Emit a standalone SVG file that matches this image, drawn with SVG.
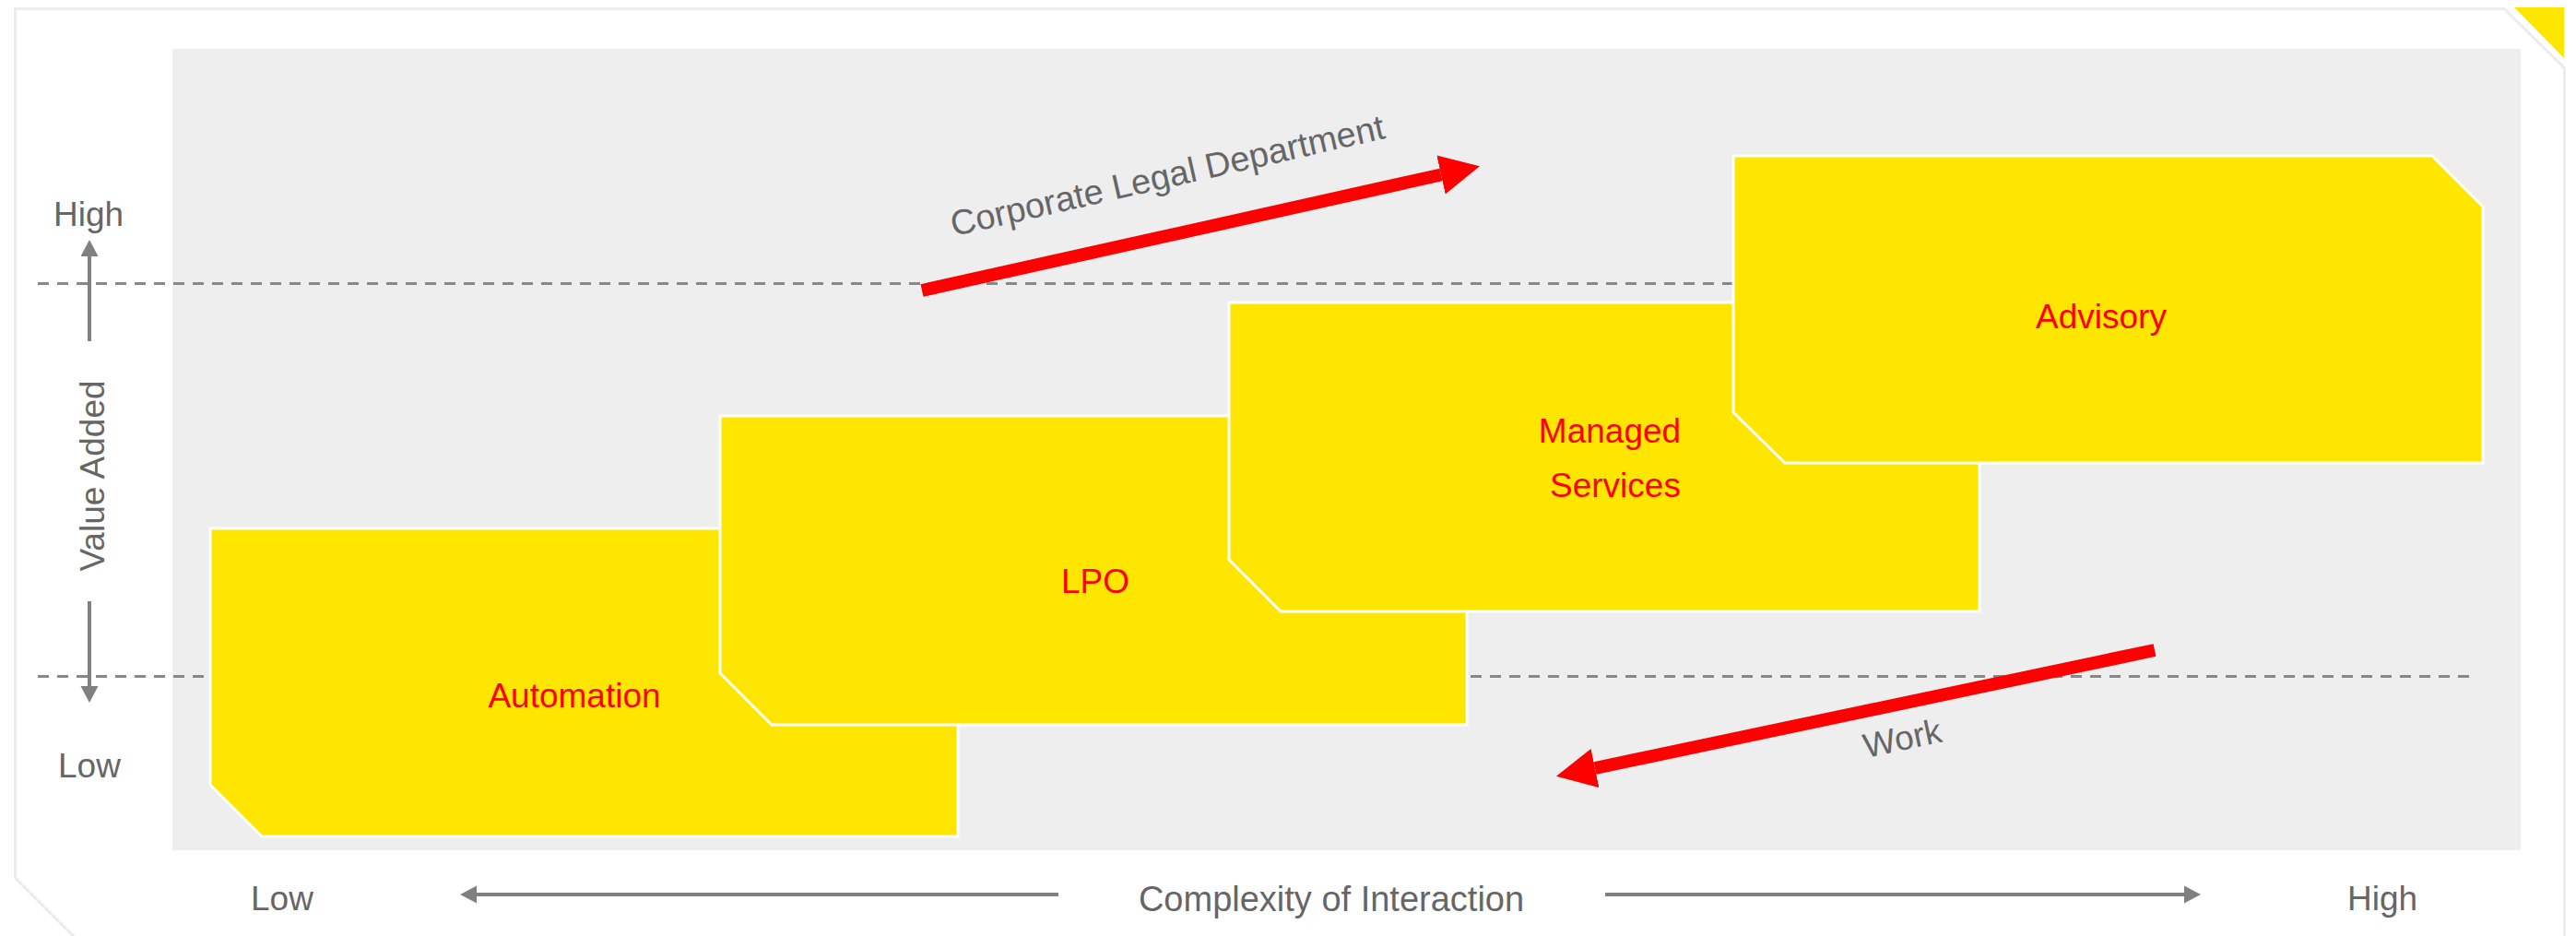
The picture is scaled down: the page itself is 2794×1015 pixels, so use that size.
<svg xmlns="http://www.w3.org/2000/svg" width="2794" height="1015" viewBox="0 0 2794 1015">
  <style>
    .lbl { font-family: "Liberation Sans", Arial, sans-serif; font-size: 37px; fill: #666666; }
    .lbl-lg { font-size: 38px; }
    .node-text { font-family: "Liberation Sans", Arial, sans-serif; font-size: 37px; fill: #FF0000; text-anchor: middle; }
    .box { fill: #FFE600; stroke: #FFFFFF; stroke-width: 3; }
    .dash { stroke: #888888; stroke-width: 3; stroke-dasharray: 12 9; fill: none; }
    .gray-arrow { stroke: #808080; stroke-width: 4; fill: none; }
    .red-arrow { stroke: #FF0000; stroke-width: 14; fill: none; }
  </style>
  <defs>
    <marker id="redHead" markerUnits="userSpaceOnUse" markerWidth="44" markerHeight="44" refX="0" refY="21.5" orient="auto">
      <path d="M0,0 L43,21.5 L0,43 Z" fill="#FF0000"/>
    </marker>
    <marker id="grayHead" markerUnits="userSpaceOnUse" markerWidth="20" markerHeight="20" refX="0" refY="9.5" orient="auto">
      <path d="M0,0 L18,9.5 L0,19 Z" fill="#808080"/>
    </marker>
  </defs>

  <rect x="0" y="0" width="2794" height="1015" fill="#FFFFFF"/>
  <!-- outer frame -->
  <path d="M16.5,952 L16.5,9.5 L2716,9.5 L2781.5,74 L2781.5,1015" fill="none" stroke="#ECECEC" stroke-width="3"/>
  <path d="M16.5,952 L80,1015.5" fill="none" stroke="#ECECEC" stroke-width="3"/>
  <polygon points="2727,8 2781,8 2781,63" fill="#FFE600"/>

  <!-- plot background -->
  <rect x="187" y="53" width="2547" height="869" fill="#EEEEEE"/>

  <!-- dashed reference lines -->
  <line class="dash" x1="41" y1="307.5" x2="2687" y2="307.5"/>
  <line class="dash" x1="41" y1="733.5" x2="2687" y2="733.5"/>

  <!-- nodes -->
  <g id="automation">
    <polygon class="box" points="228,573 983,573 1039,629 1039,907 284,907 228,851"/>
    <text class="node-text" x="623" y="767">Automation</text>
  </g>
  <g id="lpo">
    <polygon class="box" points="781,451 1535,451 1591,507 1591,786 837,786 781,730"/>
    <text class="node-text" x="1188" y="643">LPO</text>
  </g>
  <g id="managed-services">
    <polygon class="box" points="1333,328 2091,328 2147,384 2147,663 1389,663 1333,607"/>
    <text class="node-text" x="1746" y="480">Managed</text>
    <text class="node-text" x="1752" y="539">Services</text>
  </g>
  <g id="advisory">
    <polygon class="box" points="1880,169 2638,169 2693,224 2693,502 1936,502 1880,447"/>
    <text class="node-text" x="2279" y="356">Advisory</text>
  </g>

  <!-- connectors -->
  <g id="connectors">
    <line class="red-arrow" x1="1000" y1="315" x2="1563" y2="189.5" marker-end="url(#redHead)"/>
    <line class="red-arrow" x1="2337" y1="705" x2="1730" y2="833" marker-end="url(#redHead)"/>
    <line class="gray-arrow" x1="97" y1="370" x2="97" y2="278" marker-end="url(#grayHead)"/>
    <line class="gray-arrow" x1="97" y1="652" x2="97" y2="744" marker-end="url(#grayHead)"/>
    <line class="gray-arrow" x1="1148" y1="970" x2="517" y2="970" marker-end="url(#grayHead)"/>
    <line class="gray-arrow" x1="1741" y1="970" x2="2369" y2="970" marker-end="url(#grayHead)"/>
  </g>

  <!-- labels -->
  <text class="lbl lbl-lg" x="1269" y="203" text-anchor="middle" transform="rotate(-12.8 1269 203)">Corporate Legal Department</text>
  <text class="lbl" x="2066" y="813" text-anchor="middle" transform="rotate(-12 2066 813)">Work</text>
  <text class="lbl" x="96" y="245" text-anchor="middle">High</text>
  <text class="lbl" x="97" y="843" text-anchor="middle">Low</text>
  <text class="lbl" x="0" y="0" text-anchor="middle" transform="translate(113 516) rotate(-90)">Value Added</text>
  <text class="lbl" x="306" y="987" text-anchor="middle">Low</text>
  <text class="lbl lbl-lg" x="1444" y="988" text-anchor="middle">Complexity of Interaction</text>
  <text class="lbl" x="2584" y="987" text-anchor="middle">High</text>
</svg>
